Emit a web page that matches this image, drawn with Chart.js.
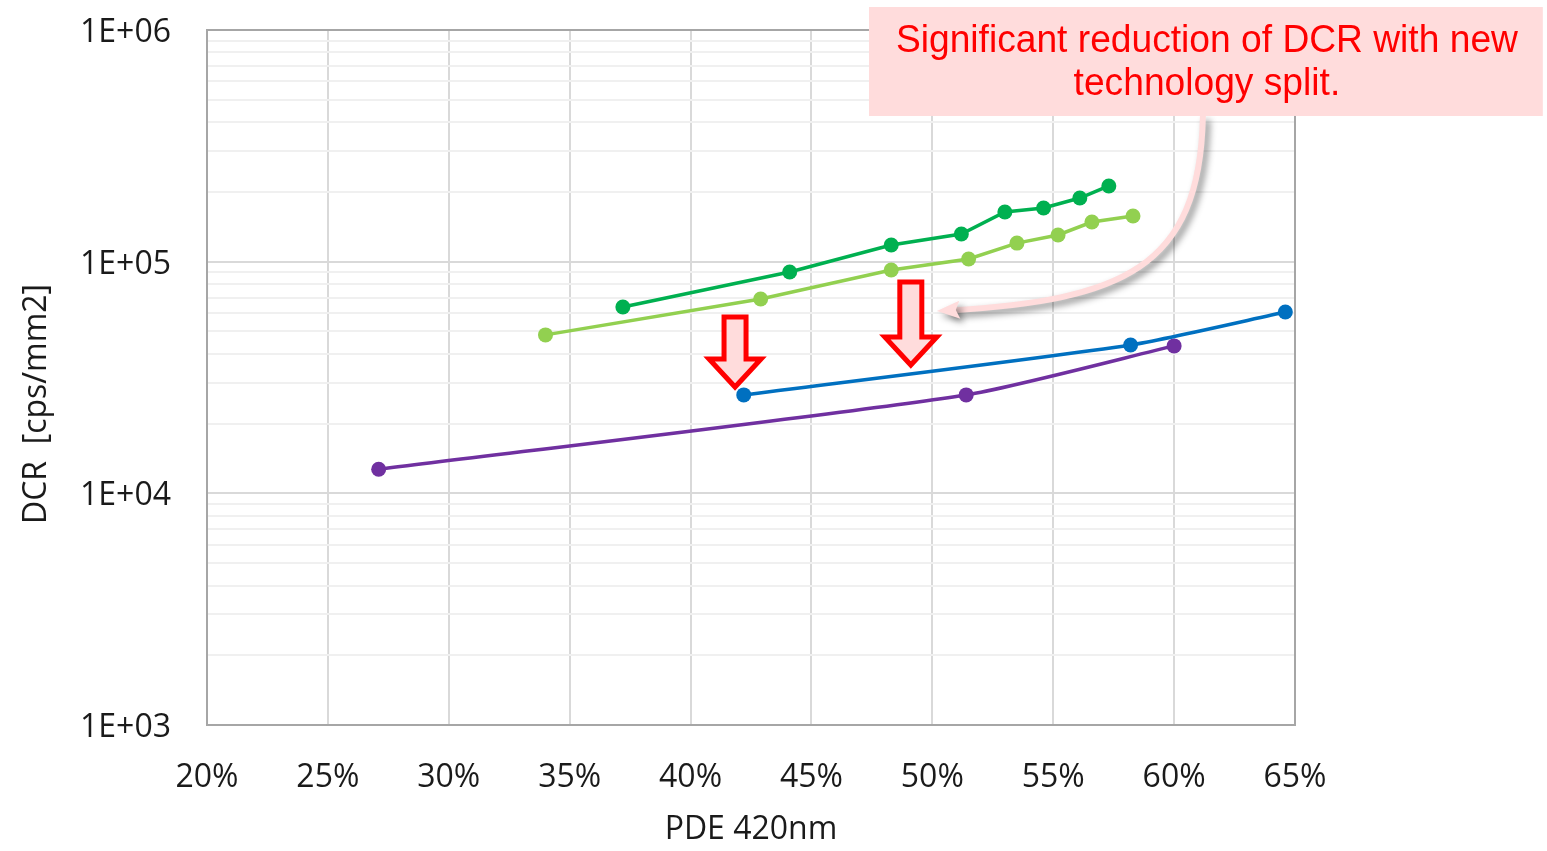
<!DOCTYPE html>
<html><head><meta charset="utf-8">
<script src="https://cdn.jsdelivr.net/npm/chart.js@4.4.0/dist/chart.umd.min.js"></script>
<style>html,body{margin:0;padding:0;background:#fff;}#wrap{width:1547px;height:851px;}</style>
</head><body><div id="wrap"><canvas id="c" width="1547" height="851"></canvas></div>
<script>
// ---- data ----
const xTicks = [20, 25, 30, 35, 40, 45, 50, 55, 60, 65];
const yDecades = [1e3, 1e4, 1e5, 1e6];
const seriesNames = ['Ref A', 'Ref B', 'New split A', 'New split B'];
const darkGreenX = [37.2, 44.1, 48.3, 51.2, 53.0, 54.6, 56.1, 57.3];
const darkGreenY = [63700, 90200, 118000, 131600, 163800, 170400, 188300, 212200];
const lightGreenX = [34.0, 42.9, 48.3, 51.5, 53.5, 55.2, 56.6, 58.3];
const lightGreenY = [48300, 69000, 92000, 102700, 120300, 130400, 148300, 157500];
const blueX = [42.2, 58.2, 64.6];
const blueY = [26600, 43700, 60600];
const purpleX = [27.1, 51.4, 60.0];
const purpleY = [12700, 26600, 43300];
const xTitle = 'PDE 420nm';
const yTitle = 'DCR  [cps/mm2]';
const noteLines = ['Significant reduction of DCR with new', 'technology split.'];

// annotation anchors in data units (x in %, y in cps/mm2)
const downArrows = [
  {x: 41.84, yTop: 57700, yTip: 28770},
  {x: 49.11, yTop: 81700, yTip: 35800}
];
const curve = {p0: [61.19, 425500], c1: [61.07, 92000], c2: [57.76, 68300], p3: [50.31, 61200]};
const noteBox = {x0: 47.38, x1: 75.25, yTop: 1257000, yBottom: 425500};

function pts(xs, ys) { return xs.map((x, i) => ({x: x, y: ys[i]})); }
function isDecade(v) { const l = Math.log10(v); return Math.abs(l - Math.round(l)) < 1e-9; }

const TICK_FONT = {family: 'Open Sans', size: 32};

const annot = {
  id: 'annot',
  beforeDatasetsDraw(chart) {
    const {ctx, chartArea: a} = chart;
    ctx.save();
    ctx.strokeStyle = '#A6A6A6';
    ctx.lineWidth = 2;
    ctx.strokeRect(a.left, a.top, a.right - a.left, a.bottom - a.top);
    ctx.restore();
  },
  afterDraw(chart) {
    const {ctx} = chart;
    const xs = chart.scales.x, ys = chart.scales.y;
    const P = (p) => [xs.getPixelForValue(p[0]), ys.getPixelForValue(p[1])];
    // y title
    ctx.save();
    ctx.fillStyle = '#1a1a1a';
    ctx.font = '32px "Open Sans"';
    ctx.textAlign = 'center';
    ctx.textBaseline = 'middle';
    ctx.translate(37, 404);
    ctx.rotate(-Math.PI / 2);
    ctx.fillText(yTitle, 0, 0);
    ctx.restore();

    // down arrows
    downArrows.forEach(d => {
      const cx = xs.getPixelForValue(d.x);
      const top = ys.getPixelForValue(d.yTop);
      const tip = ys.getPixelForValue(d.yTip);
      const sw = 11, hw = 26, hh = 28;
      ctx.save();
      ctx.beginPath();
      ctx.moveTo(cx - sw, top);
      ctx.lineTo(cx + sw, top);
      ctx.lineTo(cx + sw, tip - hh);
      ctx.lineTo(cx + hw, tip - hh);
      ctx.lineTo(cx, tip);
      ctx.lineTo(cx - hw, tip - hh);
      ctx.lineTo(cx - sw, tip - hh);
      ctx.closePath();
      ctx.fillStyle = '#FFDCDC';
      ctx.fill();
      ctx.lineWidth = 5;
      ctx.lineJoin = 'miter';
      ctx.strokeStyle = '#FF0000';
      ctx.stroke();
      ctx.restore();
    });

    // curved arrow with shadow
    const p0 = P(curve.p0), c1 = P(curve.c1), c2 = P(curve.c2), p3 = P(curve.p3);
    ctx.save();
    ctx.shadowColor = 'rgba(0,0,0,0.45)';
    ctx.shadowBlur = 7;
    ctx.shadowOffsetX = 4;
    ctx.shadowOffsetY = 4;
    ctx.strokeStyle = '#FFDCDC';
    ctx.fillStyle = '#FFDCDC';
    ctx.lineWidth = 6;
    ctx.beginPath();
    ctx.moveTo(p0[0], p0[1]);
    ctx.bezierCurveTo(c1[0], c1[1], c2[0], c2[1], p3[0] + 10, p3[1] - 0.6);
    ctx.stroke();
    const ang = Math.atan2(p3[1] - c2[1], p3[0] - c2[0]);
    const L = 20, W = 9;
    const bx = p3[0] - L * Math.cos(ang), by = p3[1] - L * Math.sin(ang);
    ctx.beginPath();
    ctx.moveTo(p3[0] - 3, p3[1]);
    ctx.lineTo(bx + W * Math.sin(ang), by - W * Math.cos(ang));
    ctx.lineTo(bx + 4 * Math.cos(ang), by + 4 * Math.sin(ang));
    ctx.lineTo(bx - W * Math.sin(ang), by + W * Math.cos(ang));
    ctx.closePath();
    ctx.fill();
    ctx.restore();

    // note box
    const bx0 = xs.getPixelForValue(noteBox.x0), bx1 = xs.getPixelForValue(noteBox.x1);
    const by0 = ys.getPixelForValue(noteBox.yTop), by1 = ys.getPixelForValue(noteBox.yBottom);
    ctx.save();
    ctx.fillStyle = '#FFDCDC';
    ctx.fillRect(bx0, by0, bx1 - bx0, by1 - by0);
    ctx.fillStyle = '#FF0000';
    ctx.textAlign = 'center';
    ctx.textBaseline = 'alphabetic';
    ctx.font = '38px "Liberation Sans"';
    const w = ctx.measureText(noteLines[0]).width;
    const cxT = (bx0 + bx1) / 2 + 1;
    const target = 622;
    ctx.translate(cxT, 0);
    ctx.scale(target / w, 1);
    ctx.fillText(noteLines[0], 0, by0 + 45);
    ctx.fillText(noteLines[1], 0, by0 + 88);
    ctx.restore();
  }
};

const mk = (label, xs, ys, color, tension) => ({
  label: label,
  data: pts(xs, ys),
  borderColor: color,
  backgroundColor: color,
  borderWidth: 3.5,
  pointRadius: 7.5,
  pointHoverRadius: 7.5,
  pointBorderWidth: 0,
  showLine: true,
  tension: tension,
  fill: false
});

new Chart(document.getElementById('c'), {
  type: 'scatter',
  data: {
    datasets: [
      mk(seriesNames[0], darkGreenX, darkGreenY, '#00B050', 0),
      mk(seriesNames[1], lightGreenX, lightGreenY, '#92D050', 0),
      mk(seriesNames[2], blueX, blueY, '#0070C0', 0.2),
      mk(seriesNames[3], purpleX, purpleY, '#7030A0', 0.2)
    ]
  },
  options: {
    responsive: false,
    animation: false,
    devicePixelRatio: 1,
    layout: {padding: {left: 0, right: 252, top: 30, bottom: 0}},
    plugins: {legend: {display: false}, tooltip: {enabled: false}},
    scales: {
      x: {
        type: 'linear',
        min: xTicks[0], max: xTicks[xTicks.length - 1],
        afterBuildTicks: s => { s.ticks = xTicks.map(v => ({value: v})); },
        afterFit: s => { s.height = 126; s.paddingLeft = 0; s.paddingRight = 0; },
        ticks: {font: TICK_FONT, color: '#1a1a1a', padding: 34, maxRotation: 0,
          callback: v => v + '%'},
        grid: {color: '#D9D9D9', lineWidth: 2, drawTicks: false},
        border: {display: false},
        title: {display: true, text: xTitle, font: TICK_FONT, color: '#1a1a1a', padding: {top: 8, bottom: 2}}
      },
      y: {
        type: 'logarithmic',
        min: yDecades[0], max: yDecades[yDecades.length - 1],
        afterBuildTicks: s => {
          const t = [];
          for (let i = 0; i < yDecades.length - 1; i++)
            for (let d = 1; d <= 9; d++) t.push({value: d * yDecades[i]});
          t.push({value: yDecades[yDecades.length - 1]});
          s.ticks = t;
        },
        afterFit: s => { s.width = 207; s.paddingTop = 0; s.paddingBottom = 0; },
        ticks: {font: TICK_FONT, color: '#1a1a1a', padding: 36, autoSkip: false, labelOffset: 3,
          callback: v => isDecade(v) ? '1E+0' + Math.round(Math.log10(v)) : ''},
        grid: {color: c => (c.tick && isDecade(c.tick.value)) ? '#D9D9D9' : '#F0F0F0', lineWidth: 2, drawTicks: false},
        border: {display: false}
      }
    }
  },
  plugins: [annot]
});
</script></body></html>
